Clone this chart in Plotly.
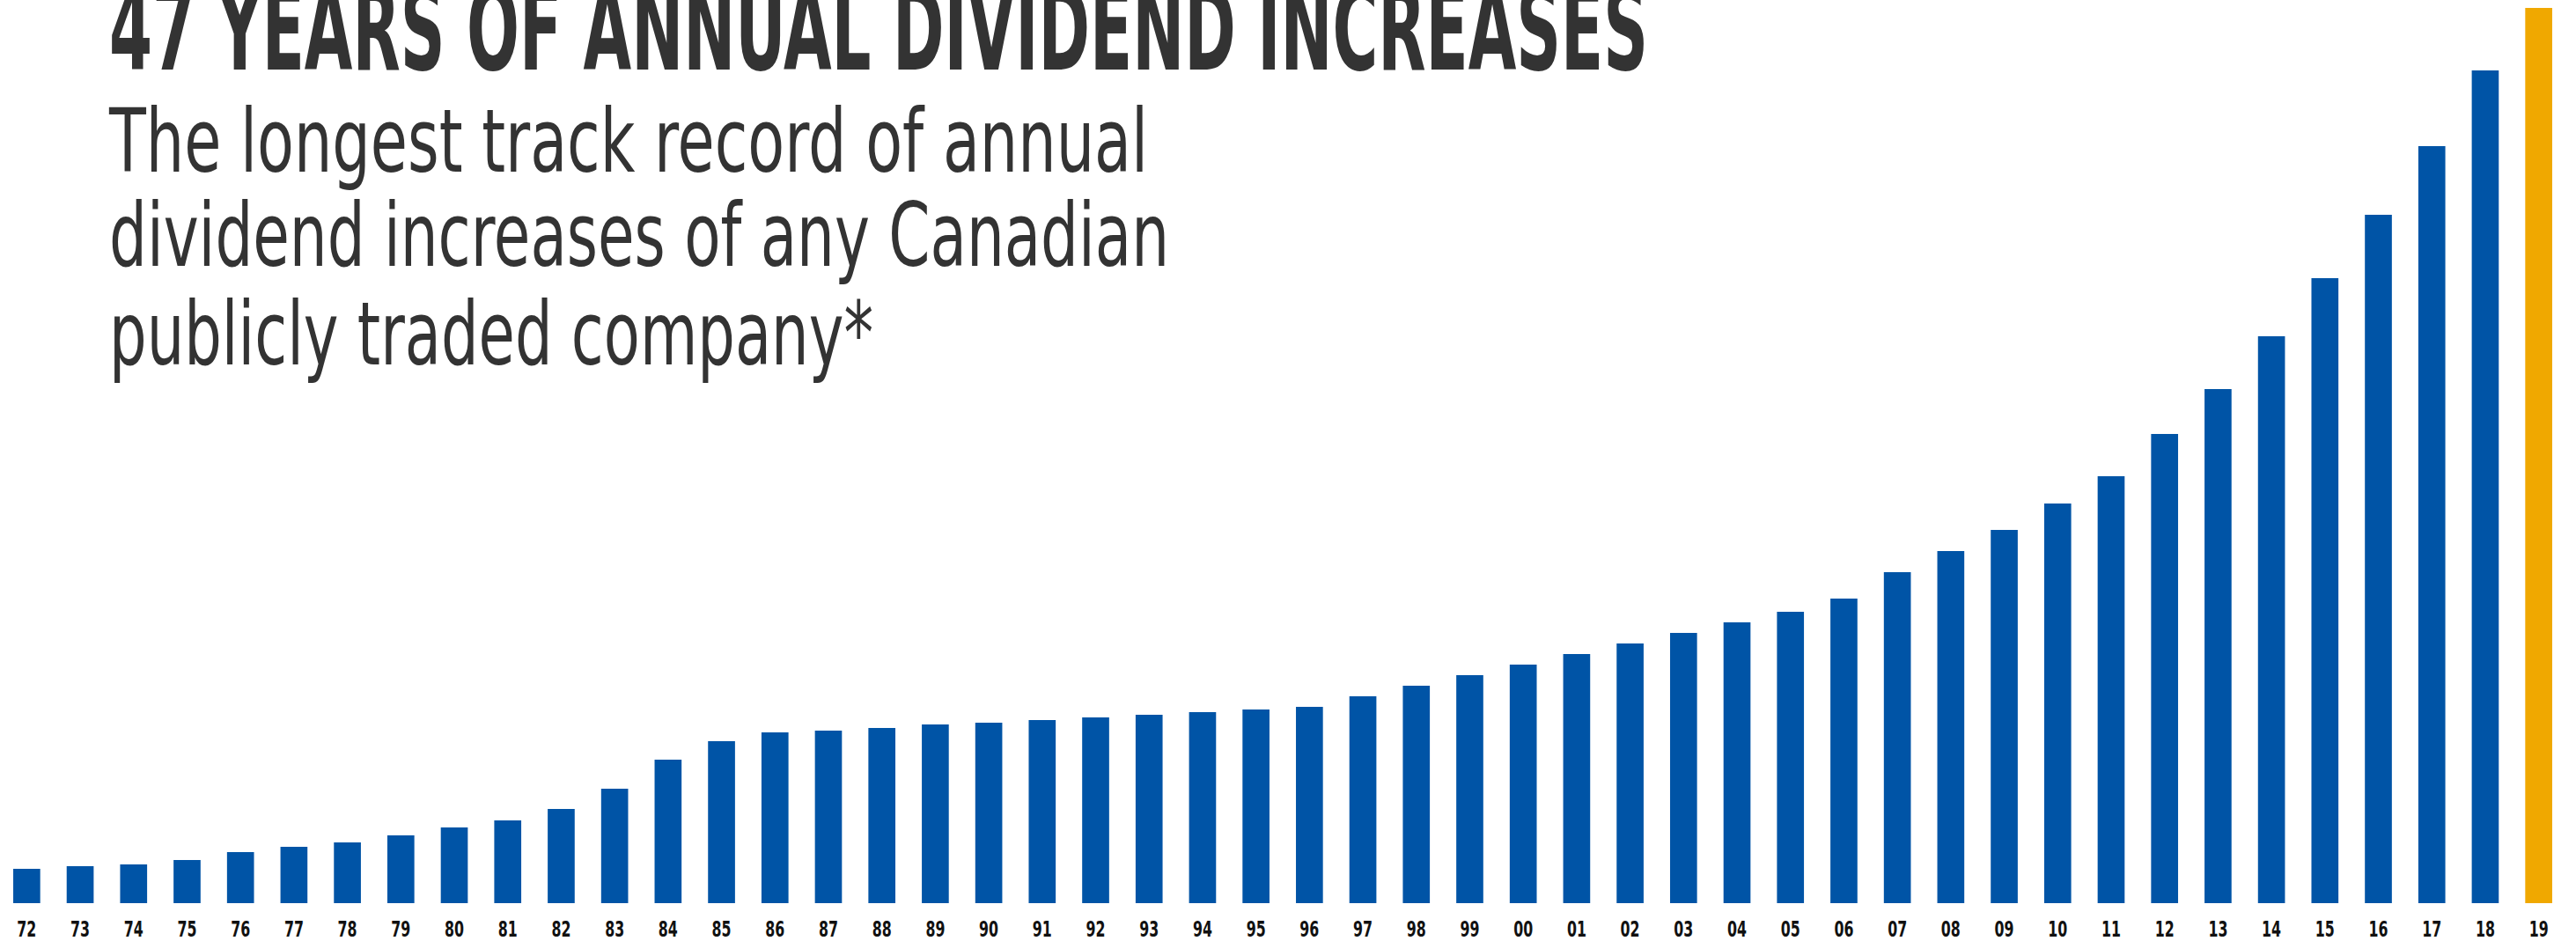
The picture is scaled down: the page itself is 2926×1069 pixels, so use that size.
import json
import plotly.graph_objects as go

years = ["72","73","74","75","76","77","78","79","80","81","82","83","84","85","86","87",
         "88","89","90","91","92","93","94","95","96","97","98","99","00","01","02","03",
         "04","05","06","07","08","09","10","11","12","13","14","15","16","17","18","19"]
values = [39, 42, 44, 49, 58, 64, 69, 77, 86, 94, 107, 130, 163, 184, 194, 196,
          199, 203, 205, 208, 211, 214, 217, 220, 223, 235, 247, 259, 271, 283, 295, 307,
          319, 331, 346, 376, 400, 424, 454, 485, 533, 584, 644, 710, 782, 860, 946, 1017]
highlight_year = "19"

title_text = "47 YEARS OF ANNUAL DIVIDEND INCREASES"
subtitle_lines = ["The longest track record of annual",
                  "dividend increases of any Canadian",
                  "publicly traded company*"]

BLUE = "#0054A6"
GOLD = "#F0A800"
TEXT = "#333333"
FONT = "DejaVu Sans Condensed"

colors = [GOLD if y == highlight_year else BLUE for y in years]

W, H = 2926, 1069
PLOT_LEFT, PLOT_RIGHT = 0, 2914
PLOT_TOP, PLOT_BOTTOM = 9, 1026

fig = go.Figure(go.Bar(x=years, y=values, marker=dict(color=colors, line=dict(width=0))))

def px_x(x):
    return (x - PLOT_LEFT) / (PLOT_RIGHT - PLOT_LEFT)

def px_y(y):
    return (PLOT_BOTTOM - y) / (PLOT_BOTTOM - PLOT_TOP)

TITLE_SIZE = 132
SUB_SIZE = 100
annotations = [
    dict(text=title_text, x=px_x(122), y=px_y(80 + 0.236 * TITLE_SIZE + 1), xref="paper", yref="paper",
         xanchor="left", yanchor="bottom", showarrow=False,
         font=dict(family=FONT, size=TITLE_SIZE, color=TEXT, weight="bold")),
]
baselines = [196, 303, 415]
for line, b in zip(subtitle_lines, baselines):
    annotations.append(dict(text=line, x=px_x(122), y=px_y(b + 0.236 * SUB_SIZE + 1), xref="paper", yref="paper",
                            xanchor="left", yanchor="bottom", showarrow=False,
                            font=dict(family=FONT, size=SUB_SIZE, color=TEXT)))

fig.update_layout(
    width=W, height=H,
    margin=dict(l=PLOT_LEFT, r=W - PLOT_RIGHT, t=PLOT_TOP, b=H - PLOT_BOTTOM, pad=0),
    paper_bgcolor="white", plot_bgcolor="white",
    bargap=0.495,
    showlegend=False,
    annotations=annotations,
    xaxis=dict(type="category", showgrid=False, zeroline=False, showline=False, ticks="",
               tickfont=dict(family=FONT, size=25, color="#111111", weight="bold"),
               ticklabelstandoff=12),
    yaxis=dict(range=[0, 1017], visible=False, showgrid=False, zeroline=False),
)

# condensed-type widths measured on the reference
text_widths = {title_text: 1748, subtitle_lines[0]: 1180,
               subtitle_lines[1]: 1204, subtitle_lines[2]: 868}

post = """
var gd = document.getElementById('{plot_id}');
var fit = %s;
gd.querySelectorAll('text.annotation-text').forEach(function(t){
  var w = fit[t.textContent];
  if (w) {
    var bb = t.getBBox();
    t.setAttribute('text-anchor', 'start');
    t.setAttribute('x', bb.x);
    t.setAttribute('textLength', w);
    t.setAttribute('lengthAdjust', 'spacingAndGlyphs');
  }
});
gd.querySelectorAll('.xtick text').forEach(function(t){
  t.setAttribute('textLength', 22);
  t.setAttribute('lengthAdjust', 'spacingAndGlyphs');
});
""" % json.dumps(text_widths)

fig.write_html("out.html", post_script=post)
